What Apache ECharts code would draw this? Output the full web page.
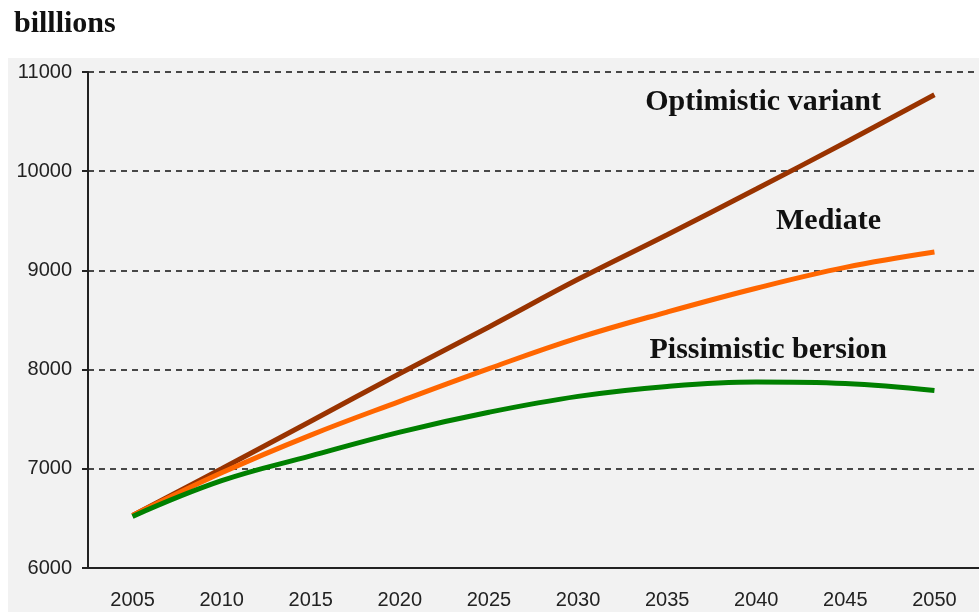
<!DOCTYPE html>
<html>
<head>
<meta charset="utf-8">
<script src="https://cdn.jsdelivr.net/npm/echarts@6/dist/echarts.min.js"></script>
<style>
  html, body { margin: 0; padding: 0; background: #fff; }
  #chart { width: 979px; height: 612px; }
</style>
</head>
<body>
<div id="chart"></div>
<script>
const years = ['2005', '2010', '2015', '2020', '2025', '2030', '2035', '2040', '2045', '2050']
const optimistic = [6530, 7000, 7480, 7960, 8430, 8910, 9360, 9820, 10290, 10770]
const mediate = [6530, 6960, 7340, 7680, 8010, 8320, 8580, 8820, 9030, 9185]
const pessimistic = [6520, 6880, 7130, 7370, 7570, 7730, 7830, 7875, 7860, 7790]
const yTicks = [6000, 7000, 8000, 9000, 10000, 11000]

const chart = echarts.init(document.getElementById('chart'))

const lineSeries = (name, data, color) => ({
  name: name,
  type: 'line',
  data: data,
  smooth: 0.4,
  symbol: 'none',
  lineStyle: { color: color, width: 5 },
  z: 3
})

const labelFont = 'bold 30px "Liberation Serif", "DejaVu Serif", serif'
const tickFont = 'Liberation Sans, Arial, sans-serif'

chart.setOption({
  animation: false,
  backgroundColor: '#fff',
  graphic: [
    {
      type: 'rect',
      shape: { x: 8, y: 58, width: 980, height: 560 },
      style: { fill: '#f2f2f2' },
      z: -10,
      silent: true
    },
    {
      type: 'text',
      left: 14, top: 9,
      style: { text: 'billlions', font: 'bold 30px "Liberation Serif", serif', fill: '#111' }
    },
    {
      type: 'text',
      right: 98, top: 87,
      style: { text: 'Optimistic variant', font: labelFont, fill: '#111' }
    },
    {
      type: 'text',
      right: 98, top: 206,
      style: { text: 'Mediate', font: labelFont, fill: '#111' }
    },
    {
      type: 'text',
      right: 92, top: 335,
      style: { text: 'Pissimistic bersion', font: labelFont, fill: '#111' }
    }
  ],
  grid: { left: 88, top: 72, width: 893, bottom: 44, containLabel: false },
  xAxis: {
    type: 'category',
    data: years,
    boundaryGap: true,
    axisLine: { lineStyle: { color: '#222', width: 2 } },
    axisTick: { length: 6, lineStyle: { color: '#222', width: 2 } },
    axisLabel: { color: '#222', fontSize: 20, fontFamily: tickFont, margin: 22 },
    splitLine: { show: false }
  },
  yAxis: {
    type: 'value',
    min: yTicks[0],
    max: yTicks[yTicks.length - 1],
    interval: 1000,
    axisLine: { show: true, lineStyle: { color: '#222', width: 2 } },
    axisTick: { show: true, length: 6, lineStyle: { color: '#222', width: 2 } },
    axisLabel: { color: '#222', fontSize: 20, fontFamily: tickFont, margin: 16, formatter: v => String(v) },
    splitLine: { show: true, lineStyle: { color: '#111', type: [6, 5], width: 1.5 } }
  },
  series: [
    lineSeries('Optimistic variant', optimistic, '#993300'),
    lineSeries('Mediate', mediate, '#ff6600'),
    lineSeries('Pissimistic bersion', pessimistic, '#008000')
  ]
})
</script>
</body>
</html>
